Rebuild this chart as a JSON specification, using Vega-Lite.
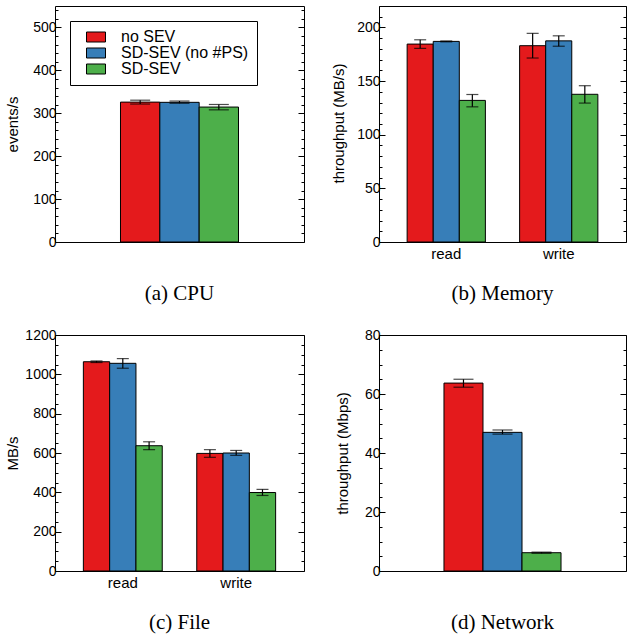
{
  "$schema": "https://vega.github.io/schema/vega-lite/v6.json",
  "padding": {"left": 4, "top": 5, "right": 0, "bottom": 0},
  "data": {"values": [
    {"panel": "cpu", "group": "all", "series": "no SEV", "value": 326, "lo": 321.5, "hi": 330.5},
    {"panel": "cpu", "group": "all", "series": "SD-SEV (no #PS)", "value": 325.5, "lo": 323.3, "hi": 328.5},
    {"panel": "cpu", "group": "all", "series": "SD-SEV", "value": 314.5, "lo": 308, "hi": 320.5},
    {"panel": "mem", "group": "read", "series": "no SEV", "value": 184.5, "lo": 180.5, "hi": 188.5},
    {"panel": "mem", "group": "read", "series": "SD-SEV (no #PS)", "value": 187, "lo": 186.6, "hi": 187.4},
    {"panel": "mem", "group": "read", "series": "SD-SEV", "value": 132, "lo": 126, "hi": 137.5},
    {"panel": "mem", "group": "write", "series": "no SEV", "value": 183, "lo": 171.5, "hi": 194.5},
    {"panel": "mem", "group": "write", "series": "SD-SEV (no #PS)", "value": 187.5, "lo": 182.5, "hi": 192.2},
    {"panel": "mem", "group": "write", "series": "SD-SEV", "value": 137.7, "lo": 129.5, "hi": 145.7},
    {"panel": "file", "group": "read", "series": "no SEV", "value": 1064, "lo": 1060, "hi": 1068},
    {"panel": "file", "group": "read", "series": "SD-SEV (no #PS)", "value": 1056, "lo": 1031, "hi": 1080},
    {"panel": "file", "group": "read", "series": "SD-SEV", "value": 637, "lo": 617, "hi": 657},
    {"panel": "file", "group": "write", "series": "no SEV", "value": 598, "lo": 578, "hi": 617},
    {"panel": "file", "group": "write", "series": "SD-SEV (no #PS)", "value": 600, "lo": 588, "hi": 613},
    {"panel": "file", "group": "write", "series": "SD-SEV", "value": 399, "lo": 384, "hi": 415},
    {"panel": "net", "group": "all", "series": "no SEV", "value": 63.7, "lo": 62.3, "hi": 65.0},
    {"panel": "net", "group": "all", "series": "SD-SEV (no #PS)", "value": 47.0, "lo": 46.4, "hi": 47.8},
    {"panel": "net", "group": "all", "series": "SD-SEV", "value": 6.2, "lo": 6.0, "hi": 6.4}
  ]},
  "columns": 2,
  "align": "each",
  "spacing": {"row": 22, "column": 25},
  "resolve": {"legend": {"color": "independent"}, "scale": {"xOffset": "independent", "x": "independent", "y": "independent"}},
  "concat": [
    {
      "width": 249, "height": 236,
      "title": {"text": "(a) CPU", "offset": 34},
      "transform": [{"filter": "datum.panel === 'cpu'"}],
      "encoding": {
        "x": {"field": "group", "type": "nominal", "axis": null, "scale": {"paddingInner": 0, "paddingOuter": 0.555}},
        "xOffset": {"field": "series", "type": "nominal", "scale": {"domain": ["no SEV", "SD-SEV (no #PS)", "SD-SEV"], "paddingInner": 0, "paddingOuter": 0}}
      },
      "layer": [
        {"mark": {"type": "bar", "stroke": "black", "strokeWidth": 1},
         "encoding": {
           "y": {"field": "value", "type": "quantitative", "scale": {"domain": [0, 550], "nice": false},
                 "axis": {"orient": "left", "title": "events/s", "titleX": -35, "titleY": 118,
                          "values": [0,20,40,60,80,100,120,140,160,180,200,220,240,260,280,300,320,340,360,380,400,420,440,460,480,500,520,540],
                          "labelExpr": "datum.value % 100 === 0 ? datum.label : ''",
                          "tickSize": {"condition": {"test": "datum.value % 100 === 0", "value": -6}, "value": -3},
                          "labelPadding": 5}},
           "color": {"field": "series", "type": "nominal",
                     "scale": {"domain": ["no SEV", "SD-SEV (no #PS)", "SD-SEV"], "range": ["#e41a1c", "#377eb8", "#4daf4a"]},
                     "legend": {"title": null, "orient": "top-left", "offset": 15, "padding": 8,
                                "strokeColor": "black", "fillColor": "white", "cornerRadius": 0,
                                "symbolType": "M-1.9,-1H1.9V1H-1.9Z", "symbolSize": 100,
                                "symbolStrokeColor": "black", "symbolStrokeWidth": 1, "symbolOpacity": 1,
                                "labelFont": "Liberation Sans", "labelFontSize": 16, "labelColor": "black",
                                "labelOffset": 17, "rowPadding": 0, "symbolOffset": 10}}
         }},
        {"mark": {"type": "rule", "color": "black", "strokeWidth": 1.2},
         "encoding": {
           "y": {"field": "lo", "type": "quantitative",
                 "axis": {"orient": "right", "title": null, "labels": false,
                          "values": [0,20,40,60,80,100,120,140,160,180,200,220,240,260,280,300,320,340,360,380,400,420,440,460,480,500,520,540],
                          "tickSize": {"condition": {"test": "datum.value % 100 === 0", "value": -6}, "value": -3}}},
           "y2": {"field": "hi"}
         }},
        {"mark": {"type": "tick", "color": "black", "size": 20, "thickness": 1.2},
         "encoding": {"y": {"field": "lo", "type": "quantitative", "axis": null}}},
        {"mark": {"type": "tick", "color": "black", "size": 20, "thickness": 1.2},
         "encoding": {"y": {"field": "hi", "type": "quantitative", "axis": null}}}
      ],
      "resolve": {"axis": {"y": "independent"}}
    },
    {
      "width": 247, "height": 236,
      "title": {"text": "(b) Memory", "offset": 22},
      "transform": [{"filter": "datum.panel === 'mem'"}],
      "encoding": {
        "x": {"field": "group", "type": "nominal", "scale": {"paddingInner": 0, "paddingOuter": 0.098},
              "axis": {"title": null, "ticks": false, "domain": false, "labelAngle": 0, "labelPadding": 4, "labelFontSize": 15}},
        "xOffset": {"field": "series", "type": "nominal", "scale": {"domain": ["no SEV", "SD-SEV (no #PS)", "SD-SEV"], "paddingInner": 0, "paddingOuter": 0.656}}
      },
      "layer": [
        {"mark": {"type": "bar", "stroke": "black", "strokeWidth": 1},
         "encoding": {
           "y": {"field": "value", "type": "quantitative", "scale": {"domain": [0, 220], "nice": false},
                 "axis": {"orient": "left", "title": "throughput (MB/s)", "titleX": -33, "titleY": 117,
                          "values": [0,10,20,30,40,50,60,70,80,90,100,110,120,130,140,150,160,170,180,190,200,210,220],
                          "labelExpr": "datum.value % 50 === 0 ? datum.label : ''",
                          "tickSize": {"condition": {"test": "datum.value % 50 === 0", "value": -6}, "value": -3},
                          "labelPadding": 5}},
           "color": {"field": "series", "type": "nominal",
                     "scale": {"domain": ["no SEV", "SD-SEV (no #PS)", "SD-SEV"], "range": ["#e41a1c", "#377eb8", "#4daf4a"]},
                     "legend": null}
         }},
        {"mark": {"type": "rule", "color": "black", "strokeWidth": 1.2},
         "encoding": {
           "y": {"field": "lo", "type": "quantitative",
                 "axis": {"orient": "right", "title": null, "labels": false,
                          "values": [0,10,20,30,40,50,60,70,80,90,100,110,120,130,140,150,160,170,180,190,200,210,220],
                          "tickSize": {"condition": {"test": "datum.value % 50 === 0", "value": -6}, "value": -3}}},
           "y2": {"field": "hi"}
         }},
        {"mark": {"type": "tick", "color": "black", "size": 12, "thickness": 1.2},
         "encoding": {"y": {"field": "lo", "type": "quantitative", "axis": null}}},
        {"mark": {"type": "tick", "color": "black", "size": 12, "thickness": 1.2},
         "encoding": {"y": {"field": "hi", "type": "quantitative", "axis": null}}}
      ],
      "resolve": {"axis": {"y": "independent"}}
    },
    {
      "width": 249, "height": 236,
      "title": {"text": "(c) File", "offset": 22},
      "transform": [{"filter": "datum.panel === 'file'"}],
      "encoding": {
        "x": {"field": "group", "type": "nominal", "scale": {"paddingInner": 0, "paddingOuter": 0.098},
              "axis": {"title": null, "ticks": false, "domain": false, "labelAngle": 0, "labelPadding": 4, "labelFontSize": 15}},
        "xOffset": {"field": "series", "type": "nominal", "scale": {"domain": ["no SEV", "SD-SEV (no #PS)", "SD-SEV"], "paddingInner": 0, "paddingOuter": 0.656}}
      },
      "layer": [
        {"mark": {"type": "bar", "stroke": "black", "strokeWidth": 1},
         "encoding": {
           "y": {"field": "value", "type": "quantitative", "scale": {"domain": [0, 1200], "nice": false},
                 "axis": {"orient": "left", "title": "MB/s", "titleX": -35, "titleY": 118,
                          "values": [0,50,100,150,200,250,300,350,400,450,500,550,600,650,700,750,800,850,900,950,1000,1050,1100,1150,1200],
                          "labelExpr": "datum.value % 200 === 0 ? datum.label : ''",
                          "format": "d",
                          "tickSize": {"condition": {"test": "datum.value % 200 === 0", "value": -6}, "value": -3},
                          "labelPadding": 5}},
           "color": {"field": "series", "type": "nominal",
                     "scale": {"domain": ["no SEV", "SD-SEV (no #PS)", "SD-SEV"], "range": ["#e41a1c", "#377eb8", "#4daf4a"]},
                     "legend": null}
         }},
        {"mark": {"type": "rule", "color": "black", "strokeWidth": 1.2},
         "encoding": {
           "y": {"field": "lo", "type": "quantitative",
                 "axis": {"orient": "right", "title": null, "labels": false,
                          "values": [0,50,100,150,200,250,300,350,400,450,500,550,600,650,700,750,800,850,900,950,1000,1050,1100,1150,1200],
                          "tickSize": {"condition": {"test": "datum.value % 200 === 0", "value": -6}, "value": -3}}},
           "y2": {"field": "hi"}
         }},
        {"mark": {"type": "tick", "color": "black", "size": 12, "thickness": 1.2},
         "encoding": {"y": {"field": "lo", "type": "quantitative", "axis": null}}},
        {"mark": {"type": "tick", "color": "black", "size": 12, "thickness": 1.2},
         "encoding": {"y": {"field": "hi", "type": "quantitative", "axis": null}}}
      ],
      "resolve": {"axis": {"y": "independent"}}
    },
    {
      "width": 247, "height": 236,
      "title": {"text": "(d) Network", "offset": 34},
      "transform": [{"filter": "datum.panel === 'net'"}],
      "encoding": {
        "x": {"field": "group", "type": "nominal", "axis": null, "scale": {"paddingInner": 0, "paddingOuter": 0.555}},
        "xOffset": {"field": "series", "type": "nominal", "scale": {"domain": ["no SEV", "SD-SEV (no #PS)", "SD-SEV"], "paddingInner": 0, "paddingOuter": 0}}
      },
      "layer": [
        {"mark": {"type": "bar", "stroke": "black", "strokeWidth": 1},
         "encoding": {
           "y": {"field": "value", "type": "quantitative", "scale": {"domain": [0, 80], "nice": false},
                 "axis": {"orient": "left", "title": "throughput (Mbps)", "titleX": -28.5, "titleY": 118,
                          "values": [0,5,10,15,20,25,30,35,40,45,50,55,60,65,70,75,80],
                          "labelExpr": "datum.value % 20 === 0 ? datum.label : ''",
                          "tickSize": {"condition": {"test": "datum.value % 20 === 0", "value": -6}, "value": -3},
                          "labelPadding": 5}},
           "color": {"field": "series", "type": "nominal",
                     "scale": {"domain": ["no SEV", "SD-SEV (no #PS)", "SD-SEV"], "range": ["#e41a1c", "#377eb8", "#4daf4a"]},
                     "legend": null}
         }},
        {"mark": {"type": "rule", "color": "black", "strokeWidth": 1.2},
         "encoding": {
           "y": {"field": "lo", "type": "quantitative",
                 "axis": {"orient": "right", "title": null, "labels": false,
                          "values": [0,5,10,15,20,25,30,35,40,45,50,55,60,65,70,75,80],
                          "tickSize": {"condition": {"test": "datum.value % 20 === 0", "value": -6}, "value": -3}}},
           "y2": {"field": "hi"}
         }},
        {"mark": {"type": "tick", "color": "black", "size": 20, "thickness": 1.2},
         "encoding": {"y": {"field": "lo", "type": "quantitative", "axis": null}}},
        {"mark": {"type": "tick", "color": "black", "size": 20, "thickness": 1.2},
         "encoding": {"y": {"field": "hi", "type": "quantitative", "axis": null}}}
      ],
      "resolve": {"axis": {"y": "independent"}}
    }
  ],
  "config": {
    "view": {"stroke": "black", "strokeWidth": 1},
    "font": "Liberation Sans",
    "axis": {"domain": false, "grid": false, "tickColor": "black", "labelColor": "black",
             "labelFont": "Liberation Sans", "labelFontSize": 14,
             "titleFont": "Liberation Sans", "titleFontSize": 15, "titleFontWeight": "normal", "titleColor": "black"},
    "title": {"font": "Liberation Serif", "fontSize": 21, "fontWeight": "normal", "color": "black", "orient": "bottom", "anchor": "middle"}
  }
}
